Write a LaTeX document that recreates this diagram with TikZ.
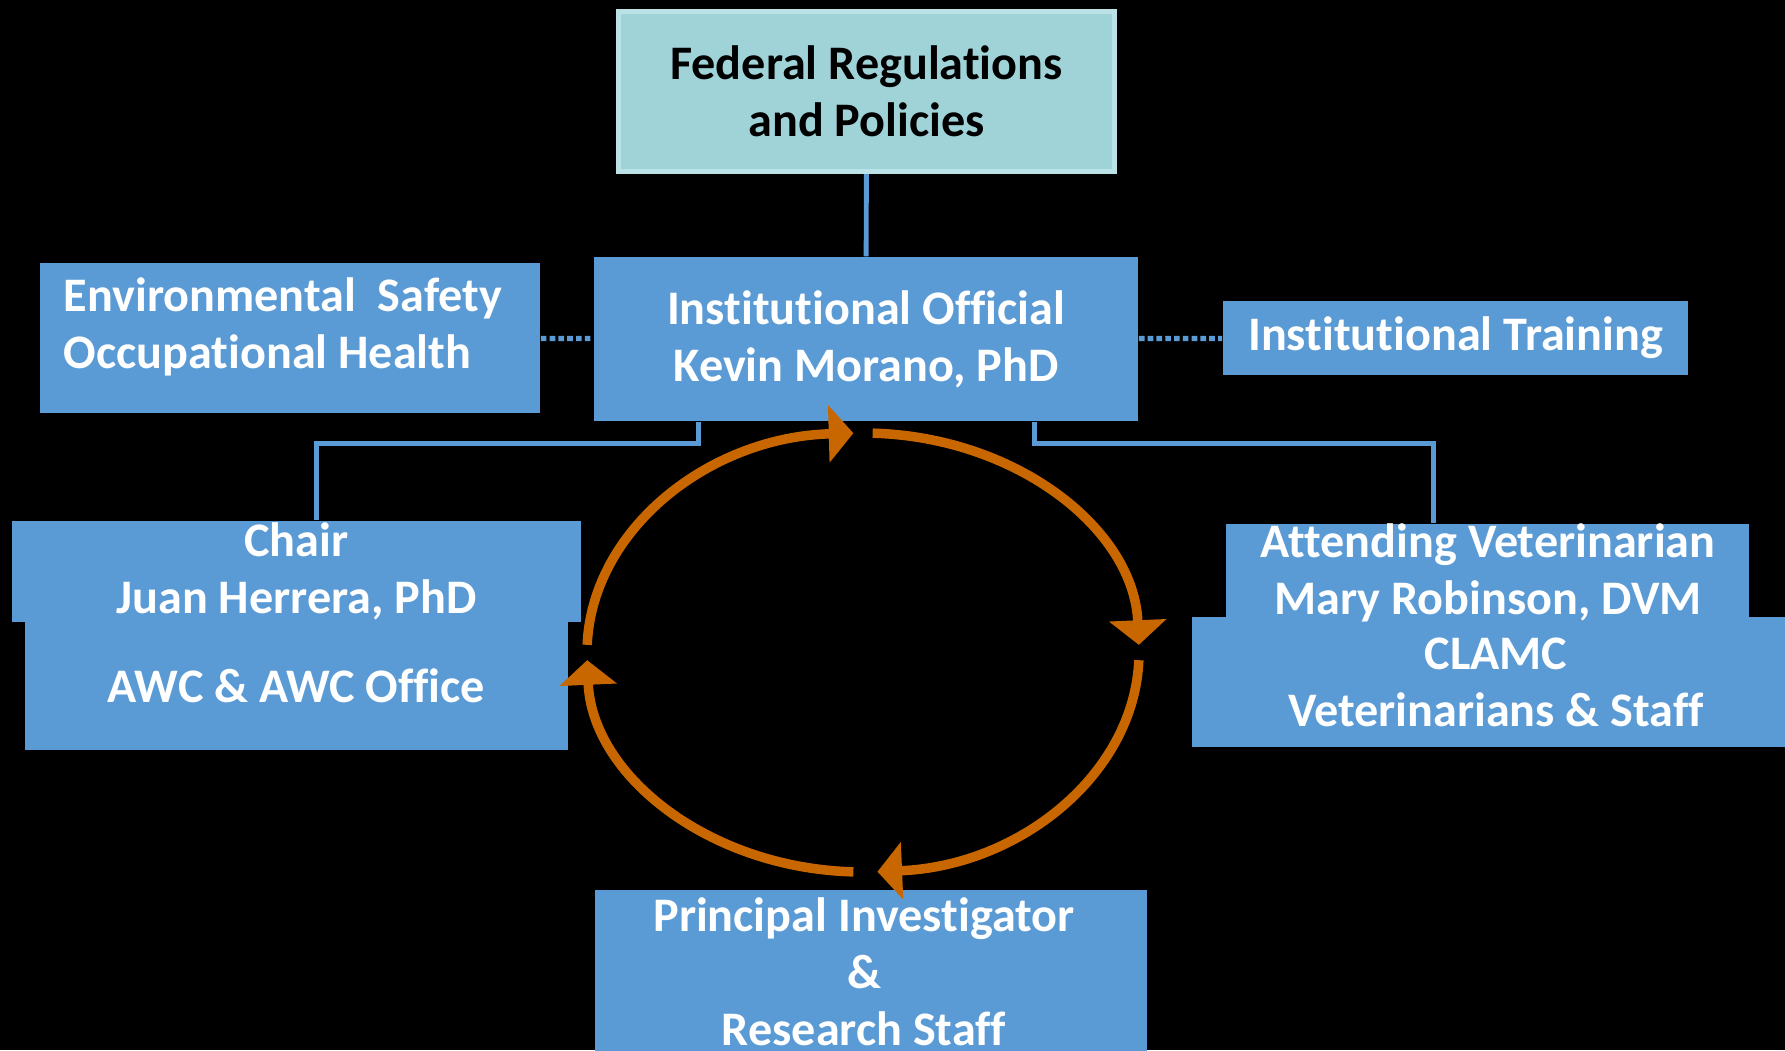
\documentclass[tikz,border=0pt]{standalone}
\usepackage{fontspec}
\setmainfont[Ligatures=NoCommon]{Carlito}
\usetikzlibrary{arrows.meta, calc}

\definecolor{boxblue}{RGB}{91,155,213}
\definecolor{regfill}{RGB}{159,211,216}
\definecolor{regline}{RGB}{186,226,231}
\definecolor{cycorange}{RGB}{200,102,0}

\begin{document}
\begin{tikzpicture}[
        x = 0.01cm, y = -0.01cm,
      txt/.style = {align=center, inner sep=0pt, text=white,
                    font=\bfseries\fontsize{13.7}{16.2}\selectfont},
      box/.style = {txt, rectangle, fill=boxblue},
   regbox/.style = {box, fill=regfill, draw=regline, line width=1.4pt,
                    text=black},
     link/.style = {draw=boxblue, line width=1.4pt},
  dotlink/.style = {draw=boxblue, line width=1.5pt,
                    dash pattern=on 1.6pt off 0.9pt},
      cyc/.style = {draw=cycorange, line width=2.7pt,
                    -{Triangle[width=16pt, length=7pt]}}
                    ]
\path[use as bounding box, fill=black] (0,0) rectangle (1785,1050);

% top of the chart
\node (fed) [regbox, minimum width=4.96cm, minimum height=1.60cm]
      at (866.5,91.5) {Federal Regulations\\and Policies};
\node (io)  [box, minimum width=5.44cm, minimum height=1.64cm]
      at (866,339) {Institutional Official\\Kevin Morano, PhD};
\node (env) [box, minimum width=5.00cm, minimum height=1.50cm]
      at (290,338) {};
\node (envtxt) [txt, align=left, anchor=west]
      at (63,327) {Environmental~~Safety\\Occupational Health};
\node (it)  [box, minimum width=4.65cm, minimum height=0.74cm]
      at (1455.5,338) {Institutional Training};

% left and right groups
\node (awc)   [box, minimum width=5.43cm, minimum height=1.28cm]
      at (296.5,686) {AWC \& AWC Office};
\node (chair) [box, minimum width=5.69cm, minimum height=1.01cm]
      at (296.5,571.5) {Chair\\Juan Herrera, PhD};
\node (clamc) [box, minimum width=6.08cm, minimum height=1.30cm]
      at (1496,682) {CLAMC\\Veterinarians \& Staff};
\node (av)    [box, minimum width=5.23cm, minimum height=0.93cm]
      at (1487.5,570.5) {};
\node (avtxt) [txt] at (1488,573)
      {Attending Veterinarian\\Mary Robinson, DVM};

% bottom
\node (pi) [box, minimum width=5.52cm, minimum height=1.64cm]
      at (871,972) {};
\node (pitxt) [txt] at (864,972)
      {Principal Investigator\\\&\\Research Staff};

% connectors
\draw [link] (fed) -- (io);
\draw [link] ($(io.south west)+(105,0)$) -- ++(0,22)
      -| ($(chair.north)+(20,0)$);
\draw [link] ($(io.south east)+(-104,0)$) -- ++(0,22)
      -| ($(av.north)+(-54,0)$);
\draw [dotlink] (env) -- (io);
\draw [dotlink] (io) -- (it);

% review cycle
\coordinate (hub) at (863,652.5);
\foreach \a/\b in {182/268, 272/358, 2/87, 92/178}
    \draw [cyc] ($(hub)+(\a:276 and 219.5)$)
        arc [start angle=\a, end angle=\b, x radius=276, y radius=219.5];
\end{tikzpicture}
\end{document}
